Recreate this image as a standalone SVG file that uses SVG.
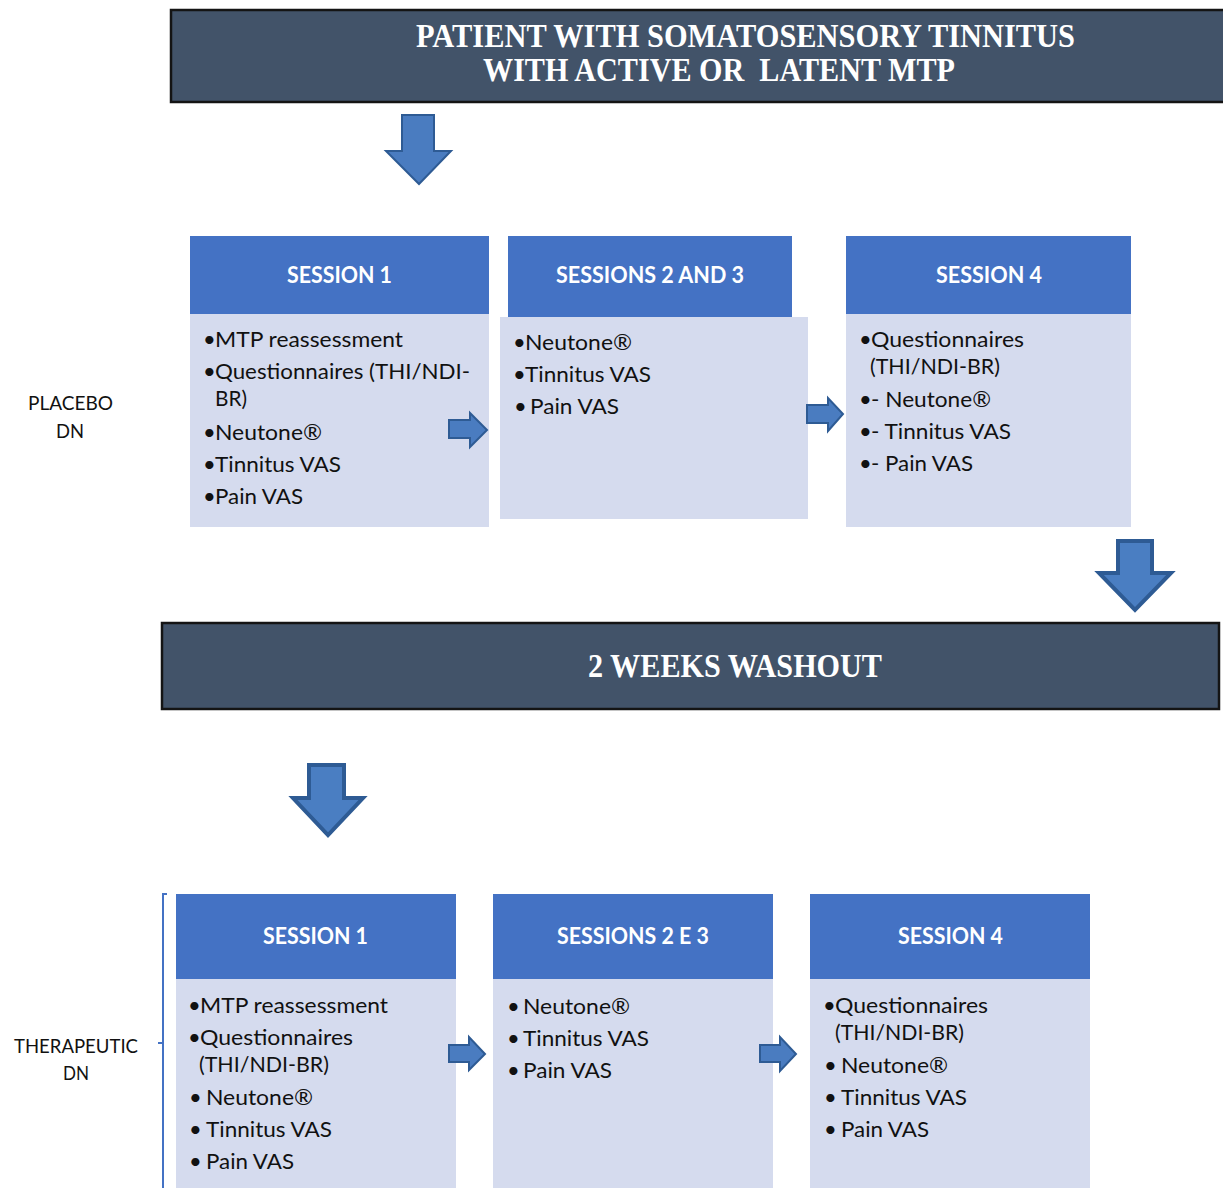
<svg xmlns="http://www.w3.org/2000/svg" width="1223" height="1188" viewBox="0 0 1223 1188">
<defs>
<style>
.banner{fill:#425369;stroke:#141414;stroke-width:2.5}
.btxt{font-family:"Liberation Serif","Times New Roman",serif;font-weight:bold;font-size:33px;fill:#ffffff;white-space:pre}
.hdr{fill:#4472C4}
.body{fill:#D5DBEE}
.htxt{font-family:Lato,"Liberation Sans",sans-serif;font-weight:bold;font-size:22px;fill:#ffffff}
.itxt{font-family:Lato,"Liberation Sans",sans-serif;font-size:22px;fill:#111111}
.lbl{font-family:Lato,"Liberation Sans",sans-serif;font-size:20px;fill:#111111}
.arr{fill:#4A7CC0;stroke:#2E5B94;stroke-width:2;stroke-linejoin:miter}
.arrT{fill:#4A7EC2;stroke:#2E5B94;stroke-width:4;stroke-linejoin:miter}
.brk{fill:none;stroke:#4472C4;stroke-width:2}
</style>
</defs>
<rect width="1223" height="1188" fill="#ffffff"/>

<g id="top-banner">
<rect class="banner" x="171" y="10" width="1060" height="92"/>
<text class="btxt" x="416" y="47" textLength="659" lengthAdjust="spacingAndGlyphs">PATIENT WITH SOMATOSENSORY TINNITUS</text>
<text class="btxt" x="483" y="81" textLength="472" lengthAdjust="spacingAndGlyphs" xml:space="preserve">WITH ACTIVE OR  LATENT MTP</text>
</g>

<g id="placebo-label">
<text class="lbl" x="28" y="410" textLength="85" lengthAdjust="spacingAndGlyphs">PLACEBO</text>
<text class="lbl" x="56" y="438" textLength="28" lengthAdjust="spacingAndGlyphs">DN</text>
</g>

<g id="p-session1">
<rect class="hdr" x="190" y="236" width="299" height="78"/>
<rect class="body" x="190" y="314" width="299" height="213"/>
<text class="htxt" x="287" y="283" textLength="105" lengthAdjust="spacingAndGlyphs">SESSION 1</text>
<text class="itxt" x="203" y="347">•</text><text class="itxt" x="215" y="347" textLength="188" lengthAdjust="spacingAndGlyphs">MTP reassessment</text>
<text class="itxt" x="203" y="379">•</text><text class="itxt" x="215" y="379" textLength="255" lengthAdjust="spacingAndGlyphs">Questionnaires (THI/NDI-</text>
<text class="itxt" x="215" y="406" textLength="32" lengthAdjust="spacingAndGlyphs">BR)</text>
<text class="itxt" x="203" y="440">•</text><text class="itxt" x="215" y="440" textLength="107" lengthAdjust="spacingAndGlyphs">Neutone®</text>
<text class="itxt" x="203" y="472">•</text><text class="itxt" x="215" y="472" textLength="126" lengthAdjust="spacingAndGlyphs">Tinnitus VAS</text>
<text class="itxt" x="203" y="504">•</text><text class="itxt" x="215" y="504" textLength="88" lengthAdjust="spacingAndGlyphs">Pain VAS</text>
</g>

<g id="p-session23">
<rect class="hdr" x="508" y="236" width="284" height="81"/>
<rect class="body" x="500" y="317" width="308" height="202"/>
<text class="htxt" x="556" y="283" textLength="188" lengthAdjust="spacingAndGlyphs">SESSIONS 2 AND 3</text>
<text class="itxt" x="513" y="350">•</text><text class="itxt" x="525" y="350" textLength="107" lengthAdjust="spacingAndGlyphs">Neutone®</text>
<text class="itxt" x="513" y="382">•</text><text class="itxt" x="525" y="382" textLength="126" lengthAdjust="spacingAndGlyphs">Tinnitus VAS</text>
<text class="itxt" x="514" y="414">•</text><text class="itxt" x="530" y="414" textLength="89" lengthAdjust="spacingAndGlyphs">Pain VAS</text>
</g>

<g id="p-session4">
<rect class="hdr" x="846" y="236" width="285" height="78"/>
<rect class="body" x="846" y="314" width="285" height="213"/>
<text class="htxt" x="936" y="283" textLength="106" lengthAdjust="spacingAndGlyphs">SESSION 4</text>
<text class="itxt" x="859" y="347">•</text><text class="itxt" x="871" y="347" textLength="153" lengthAdjust="spacingAndGlyphs">Questionnaires</text>
<text class="itxt" x="870" y="374" textLength="130" lengthAdjust="spacingAndGlyphs">(THI/NDI-BR)</text>
<text class="itxt" x="859" y="407">•</text><text class="itxt" x="871" y="407" textLength="120" lengthAdjust="spacingAndGlyphs">- Neutone®</text>
<text class="itxt" x="859" y="439">•</text><text class="itxt" x="871" y="439" textLength="140" lengthAdjust="spacingAndGlyphs">- Tinnitus VAS</text>
<text class="itxt" x="859" y="471">•</text><text class="itxt" x="871" y="471" textLength="102" lengthAdjust="spacingAndGlyphs">- Pain VAS</text>
</g>

<g id="washout-banner">
<rect class="banner" x="162" y="623" width="1057" height="86"/>
<text class="btxt" x="588" y="677" textLength="294" lengthAdjust="spacingAndGlyphs">2 WEEKS WASHOUT</text>
</g>

<g id="therapeutic-label">
<text class="lbl" x="14" y="1053" textLength="124" lengthAdjust="spacingAndGlyphs">THERAPEUTIC</text>
<text class="lbl" x="63" y="1080" textLength="26" lengthAdjust="spacingAndGlyphs">DN</text>
</g>

<g id="t-session1">
<rect class="hdr" x="176" y="894" width="280" height="85"/>
<rect class="body" x="176" y="979" width="280" height="209"/>
<text class="htxt" x="263" y="944" textLength="105" lengthAdjust="spacingAndGlyphs">SESSION 1</text>
<text class="itxt" x="188" y="1013">•</text><text class="itxt" x="200" y="1013" textLength="188" lengthAdjust="spacingAndGlyphs">MTP reassessment</text>
<text class="itxt" x="188" y="1045">•</text><text class="itxt" x="200" y="1045" textLength="153" lengthAdjust="spacingAndGlyphs">Questionnaires</text>
<text class="itxt" x="199" y="1072" textLength="130" lengthAdjust="spacingAndGlyphs">(THI/NDI-BR)</text>
<text class="itxt" x="189" y="1105">•</text><text class="itxt" x="206" y="1105" textLength="107" lengthAdjust="spacingAndGlyphs">Neutone®</text>
<text class="itxt" x="189" y="1137">•</text><text class="itxt" x="206" y="1137" textLength="126" lengthAdjust="spacingAndGlyphs">Tinnitus VAS</text>
<text class="itxt" x="189" y="1169">•</text><text class="itxt" x="206" y="1169" textLength="88" lengthAdjust="spacingAndGlyphs">Pain VAS</text>
</g>

<g id="t-session23">
<rect class="hdr" x="493" y="894" width="280" height="85"/>
<rect class="body" x="493" y="979" width="280" height="209"/>
<text class="htxt" x="557" y="944" textLength="152" lengthAdjust="spacingAndGlyphs">SESSIONS 2 E 3</text>
<text class="itxt" x="507" y="1014">•</text><text class="itxt" x="523" y="1014" textLength="107" lengthAdjust="spacingAndGlyphs">Neutone®</text>
<text class="itxt" x="507" y="1046">•</text><text class="itxt" x="523" y="1046" textLength="126" lengthAdjust="spacingAndGlyphs">Tinnitus VAS</text>
<text class="itxt" x="507" y="1078">•</text><text class="itxt" x="523" y="1078" textLength="89" lengthAdjust="spacingAndGlyphs">Pain VAS</text>
</g>

<g id="t-session4">
<rect class="hdr" x="810" y="894" width="280" height="85"/>
<rect class="body" x="810" y="979" width="280" height="209"/>
<text class="htxt" x="898" y="944" textLength="105" lengthAdjust="spacingAndGlyphs">SESSION 4</text>
<text class="itxt" x="823" y="1013">•</text><text class="itxt" x="835" y="1013" textLength="153" lengthAdjust="spacingAndGlyphs">Questionnaires</text>
<text class="itxt" x="835" y="1040" textLength="129" lengthAdjust="spacingAndGlyphs">(THI/NDI-BR)</text>
<text class="itxt" x="824" y="1073">•</text><text class="itxt" x="841" y="1073" textLength="107" lengthAdjust="spacingAndGlyphs">Neutone®</text>
<text class="itxt" x="824" y="1105">•</text><text class="itxt" x="841" y="1105" textLength="126" lengthAdjust="spacingAndGlyphs">Tinnitus VAS</text>
<text class="itxt" x="824" y="1137">•</text><text class="itxt" x="841" y="1137" textLength="88" lengthAdjust="spacingAndGlyphs">Pain VAS</text>
</g>

<g id="connectors">
<polygon class="arr" points="402,115 434,115 434,151 451,151 419,184 386,151 402,151"/>
<polygon class="arr" points="449,420 470,420 470,413 487,430 470,447 470,438 449,438"/>
<polygon class="arr" points="807,405 828,405 828,398 843,414 828,431 828,423 807,423"/>
<polygon class="arrT" points="1118,541 1152,541 1152,573 1171,573 1135,610 1099,573 1118,573"/>
<polygon class="arrT" points="309,765 344,765 344,798 363,798 328,835 293,798 309,798"/>
<polygon class="arr" points="449,1045 469,1045 469,1037 485,1054 469,1070 469,1062 449,1062"/>
<polygon class="arr" points="760,1045 780,1045 780,1037 796,1054 780,1071 780,1062 760,1062"/>
<path class="brk" d="M167,894 H163 V1188 M163,1043 H158"/>
</g>
</svg>
